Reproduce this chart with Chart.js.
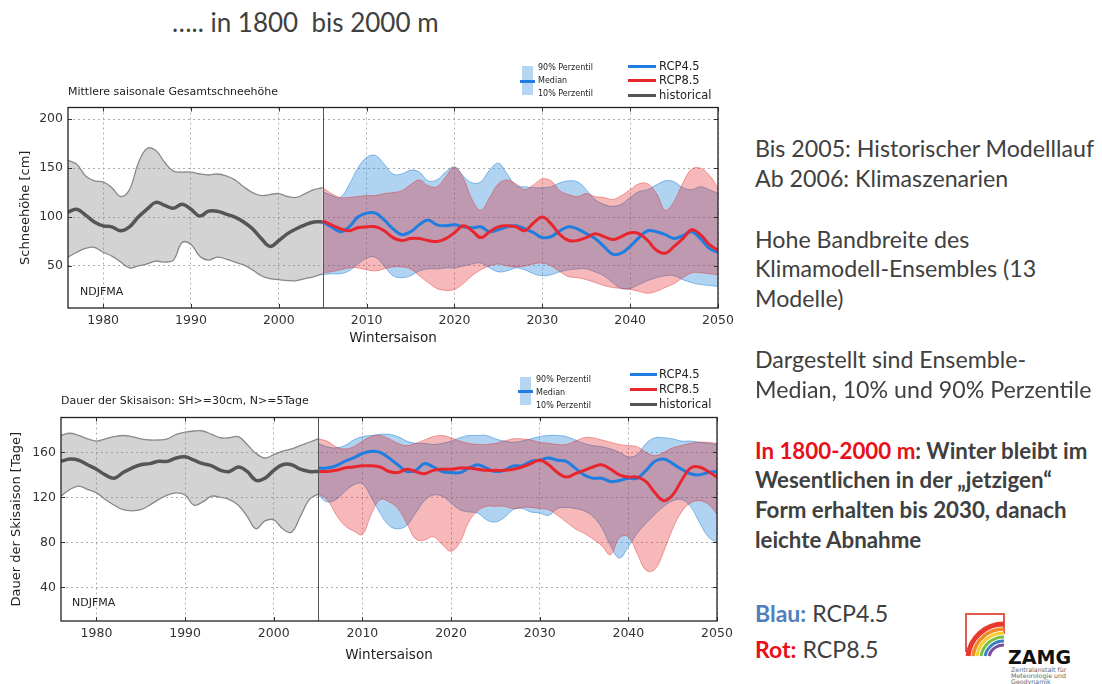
<!DOCTYPE html>
<html>
<head>
<meta charset="utf-8">
<script src="https://cdn.jsdelivr.net/npm/chart.js@4.4.1/dist/chart.umd.min.js"></script>
<style>
  body { margin: 0; background: #fff; }
  #page { position: relative; width: 1102px; height: 684px; overflow: hidden; background: #fff; }
  canvas { position: absolute; }
  .t { position: absolute; white-space: pre; color: #404040; }
  .side { font-family: Lato, "Open Sans", sans-serif; font-size: 23.2px; line-height: 30px; left: 755px; }
  .b { font-weight: bold; font-size: 22.3px; }
  .sm { font-family: "DejaVu Sans", sans-serif; color: #222; }
  .sw { position: absolute; }
</style>
</head>
<body>
<div id="page">
  <div class="t" style="left:172px;top:6px;font-family:Lato,sans-serif;font-size:26px;line-height:32px;">….. in 1800  bis 2000 m</div>

  <canvas id="snow" width="726" height="255" style="left:14px;top:95px;"></canvas>
  <canvas id="ski" width="735" height="262" style="left:5px;top:405px;"></canvas>

  <!-- top chart labels -->
  <div class="t sm" style="left:68px;top:85px;font-size:11px;line-height:14px;">Mittlere saisonale Gesamtschneehöhe</div>
  <div class="t sm" style="left:80px;top:285px;font-size:11px;line-height:14px;">NDJFMA</div>
  <div class="sw" style="left:522px;top:66px;width:11px;height:29px;background:#b5d5f2;"></div>
  <div class="sw" style="left:520px;top:80px;width:15px;height:2.5px;background:#1f7ee0;"></div>
  <div class="t sm" style="left:538px;top:62px;font-size:8px;line-height:12px;">90% Perzentil</div>
  <div class="t sm" style="left:538px;top:75px;font-size:8px;line-height:12px;">Median</div>
  <div class="t sm" style="left:538px;top:88px;font-size:8px;line-height:12px;">10% Perzentil</div>
  <div class="sw" style="left:628px;top:65px;width:28px;height:2.5px;background:#1f7ee0;"></div>
  <div class="sw" style="left:628px;top:79px;width:28px;height:2.5px;background:#e8262e;"></div>
  <div class="sw" style="left:628px;top:94px;width:28px;height:2.5px;background:#555;"></div>
  <div class="t sm" style="left:659px;top:59px;font-size:11.5px;line-height:14px;">RCP4.5</div>
  <div class="t sm" style="left:659px;top:73px;font-size:11.5px;line-height:14px;">RCP8.5</div>
  <div class="t sm" style="left:659px;top:88px;font-size:11.5px;line-height:14px;">historical</div>

  <!-- bottom chart labels -->
  <div class="t sm" style="left:61px;top:394px;font-size:11px;line-height:14px;">Dauer der Skisaison: SH&gt;=30cm, N&gt;=5Tage</div>
  <div class="t sm" style="left:72px;top:596px;font-size:11px;line-height:14px;">NDJFMA</div>
  <div class="sw" style="left:520px;top:377px;width:11px;height:28px;background:#b5d5f2;"></div>
  <div class="sw" style="left:518px;top:390px;width:15px;height:2.5px;background:#1f7ee0;"></div>
  <div class="t sm" style="left:536px;top:374px;font-size:8px;line-height:12px;">90% Perzentil</div>
  <div class="t sm" style="left:536px;top:387px;font-size:8px;line-height:12px;">Median</div>
  <div class="t sm" style="left:536px;top:400px;font-size:8px;line-height:12px;">10% Perzentil</div>
  <div class="sw" style="left:630px;top:373px;width:27px;height:2.5px;background:#1f7ee0;"></div>
  <div class="sw" style="left:630px;top:388px;width:27px;height:2.5px;background:#e8262e;"></div>
  <div class="sw" style="left:630px;top:403px;width:27px;height:2.5px;background:#555;"></div>
  <div class="t sm" style="left:659px;top:367px;font-size:11.5px;line-height:14px;">RCP4.5</div>
  <div class="t sm" style="left:659px;top:382px;font-size:11.5px;line-height:14px;">RCP8.5</div>
  <div class="t sm" style="left:659px;top:397px;font-size:11.5px;line-height:14px;">historical</div>

  <!-- side text -->
  <div class="t side" style="top:133px;">Bis 2005: Historischer Modelllauf</div>
  <div class="t side" style="top:163px;">Ab 2006: Klimaszenarien</div>
  <div class="t side" style="top:224px;">Hohe Bandbreite des</div>
  <div class="t side" style="top:253px;">Klimamodell-Ensembles (13</div>
  <div class="t side" style="top:283px;">Modelle)</div>
  <div class="t side" style="top:344px;">Dargestellt sind Ensemble-</div>
  <div class="t side" style="top:374px;">Median, 10% und 90% Perzentile</div>
  <div class="t side b" style="top:436px;"><span style="color:#e8101a;">In 1800-2000 m</span>: Winter bleibt im</div>
  <div class="t side b" style="top:465px;">Wesentlichen in der „jetzigen“</div>
  <div class="t side b" style="top:495px;">Form erhalten bis 2030, danach</div>
  <div class="t side b" style="top:525px;">leichte Abnahme</div>
  <div class="t side" style="top:598px;"><span class="b" style="color:#4f7fbd;font-size:23px;">Blau:</span> RCP4.5</div>
  <div class="t side" style="top:634px;"><span class="b" style="color:#e8101a;font-size:23px;">Rot:</span> RCP8.5</div>

  <svg style="position:absolute;left:960px;top:608px;" width="142" height="76" viewBox="960 608 142 76">
    <polyline points="966,652 966,614 1004,614 1004,634" fill="none" stroke="#e05a50" stroke-width="2"/>
    <path d="M968,656 A36,36 0 0 1 1004,624" fill="none" stroke="#e8392f" stroke-width="5"/>
    <path d="M973,656 A31,31 0 0 1 1004,629" fill="none" stroke="#f08a24" stroke-width="3.5"/>
    <path d="M977,656 A27,27 0 0 1 1004,633" fill="none" stroke="#f2cf2a" stroke-width="3"/>
    <path d="M981,656 A23,23 0 0 1 1004,637" fill="none" stroke="#7ac143" stroke-width="3"/>
    <path d="M985,656 A19,19 0 0 1 1004,641" fill="none" stroke="#3a7fc2" stroke-width="3"/>
    <path d="M989,656 A15,15 0 0 1 1004,645" fill="none" stroke="#7b4fa0" stroke-width="3"/>
    <text x="1008" y="664" font-family="DejaVu Sans" font-weight="bold" font-size="19" fill="#111">ZAMG</text>
    <text x="1011" y="672" font-family="DejaVu Sans" font-size="6.3" fill="#666">Zentralanstalt für</text>
    <text x="1011" y="678" font-family="DejaVu Sans" font-size="6.3" fill="#666">Meteorologie und</text>
    <text x="1011" y="684" font-family="DejaVu Sans" font-size="6.3" fill="#666">Geodynamik</text>
  </svg>
</div>

<script>
// winter seasons
const histYears = [1976, 1977, 1978, 1979, 1980, 1981, 1982, 1983, 1984, 1985,
  1986, 1987, 1988, 1989, 1990, 1991, 1992, 1993, 1994, 1995,
  1996, 1997, 1998, 1999, 2000, 2001, 2002, 2003, 2004, 2005];
const futYears = [2005, 2006, 2007, 2008, 2009, 2010, 2011, 2012, 2013, 2014,
  2015, 2016, 2017, 2018, 2019, 2020, 2021, 2022, 2023, 2024,
  2025, 2026, 2027, 2028, 2029, 2030, 2031, 2032, 2033, 2034,
  2035, 2036, 2037, 2038, 2039, 2040, 2041, 2042, 2043, 2044,
  2045, 2046, 2047, 2048, 2049, 2050];
const yearTicks = [1980, 1990, 2000, 2010, 2020, 2030, 2040, 2050];
const splitYear = 2005;

// Mittlere saisonale Gesamtschneehoehe [cm]
const snowHistP90 = [158, 154, 142, 137, 136, 130, 121, 128, 155, 170, 168, 156, 147, 146, 146, 144, 143, 144, 142, 138, 131, 125, 122, 123, 124, 121, 120, 124, 128, 130];
const snowHistMed = [105, 108, 102, 95, 91, 90, 86, 90, 100, 108, 115, 112, 109, 113, 108, 101, 106, 106, 103, 100, 95, 88, 78, 70, 76, 83, 88, 92, 95, 95];
const snowHistP10 = [59, 64, 68, 69, 64, 60, 54, 48, 50, 52, 55, 54, 56, 74, 72, 60, 56, 59, 57, 54, 51, 46, 40, 37, 36, 35, 35, 37, 39, 42];
const snow45Med = [95, 90, 85, 90, 100, 104, 104, 97, 88, 82, 85, 92, 97, 92, 91, 92, 90, 89, 90, 85, 87, 90, 91, 88, 84, 79, 80, 86, 90, 88, 83, 78, 70, 62, 63, 70, 79, 86, 85, 82, 78, 81, 85, 78, 68, 64];
const snow45P90 = [126, 122, 120, 133, 150, 161, 163, 154, 144, 144, 148, 146, 137, 138, 146, 151, 142, 135, 136, 148, 155, 144, 132, 131, 130, 130, 131, 135, 137, 136, 128, 118, 113, 111, 113, 120, 126, 128, 133, 137, 136, 130, 128, 131, 128, 124];
const snow45P10 = [41, 42, 42, 45, 52, 58, 59, 50, 40, 38, 40, 45, 47, 47, 48, 48, 50, 52, 53, 48, 44, 45, 48, 46, 42, 40, 41, 44, 46, 47, 47, 44, 40, 33, 27, 27, 31, 35, 38, 40, 40, 36, 33, 31, 30, 29];
const snow85Med = [96, 92, 88, 86, 89, 90, 90, 86, 79, 76, 78, 78, 76, 75, 78, 84, 91, 86, 79, 85, 90, 91, 90, 86, 94, 100, 93, 82, 76, 76, 79, 83, 80, 77, 80, 84, 83, 76, 66, 63, 70, 78, 87, 82, 72, 66];
const snow85P90 = [130, 124, 120, 120, 121, 122, 122, 124, 125, 127, 133, 138, 132, 131, 141, 151, 140, 118, 107, 120, 134, 138, 134, 128, 133, 139, 137, 127, 123, 121, 124, 121, 120, 118, 122, 128, 134, 134, 124, 107, 116, 135, 149, 150, 143, 130];
const snow85P10 = [43, 44, 46, 48, 48, 46, 45, 47, 49, 49, 47, 40, 33, 27, 25, 26, 32, 40, 46, 50, 52, 50, 49, 50, 52, 53, 50, 44, 39, 38, 36, 33, 30, 28, 27, 26, 24, 22, 24, 28, 32, 38, 43, 43, 42, 41];
const snowTicks = [50, 100, 150, 200];

// Dauer der Skisaison [Tage]
const skiHistP90 = [175, 177, 175, 172, 170, 172, 174, 175, 174, 172, 171, 171, 172, 176, 178, 179, 179, 176, 173, 173, 174, 167, 159, 155, 158, 161, 163, 166, 169, 172];
const skiHistMed = [152, 154, 153, 149, 145, 140, 137, 142, 146, 149, 150, 152, 152, 155, 156, 153, 150, 148, 144, 143, 147, 143, 135, 137, 144, 149, 149, 145, 143, 143];
const skiHistP10 = [121, 127, 130, 127, 124, 118, 113, 109, 108, 109, 113, 118, 122, 124, 122, 113, 116, 121, 120, 118, 113, 103, 92, 99, 100, 92, 89, 103, 118, 123];
const ski45Med = [146, 146, 148, 152, 155, 159, 161, 160, 155, 149, 143, 144, 150, 147, 143, 142, 142, 146, 149, 146, 143, 144, 148, 148, 152, 153, 155, 153, 152, 146, 140, 137, 137, 134, 135, 137, 137, 144, 152, 154, 150, 145, 141, 140, 142, 143];
const ski45P90 = [168, 165, 164, 166, 171, 174, 175, 176, 176, 174, 170, 168, 168, 167, 168, 170, 173, 175, 175, 175, 172, 170, 169, 170, 172, 174, 175, 175, 174, 171, 168, 166, 165, 163, 160, 156, 158, 168, 173, 173, 172, 170, 170, 169, 168, 167];
const ski45P10 = [122, 116, 118, 125, 131, 132, 120, 106, 95, 92, 95, 106, 117, 122, 121, 115, 109, 107, 106, 100, 98, 102, 109, 110, 107, 106, 104, 110, 111, 110, 108, 103, 93, 77, 66, 76, 88, 97, 105, 112, 117, 118, 112, 98, 85, 80];
const ski85Med = [143, 143, 144, 146, 147, 148, 148, 147, 143, 142, 145, 143, 141, 144, 145, 145, 146, 146, 145, 144, 144, 144, 145, 147, 150, 153, 149, 142, 138, 141, 144, 147, 149, 145, 140, 138, 138, 134, 124, 117, 122, 135, 146, 147, 143, 138];
const ski85P90 = [172, 170, 165, 163, 165, 170, 174, 175, 172, 168, 166, 168, 171, 174, 175, 173, 170, 168, 167, 167, 168, 170, 172, 172, 171, 169, 168, 167, 167, 170, 173, 173, 171, 169, 167, 166, 165, 160, 157, 160, 164, 166, 168, 169, 169, 168];
const ski85P10 = [123, 118, 105, 95, 90, 87, 105, 118, 116, 110, 97, 83, 82, 85, 78, 72, 80, 98, 108, 112, 112, 112, 110, 111, 111, 110, 109, 104, 98, 92, 88, 83, 77, 69, 84, 85, 70, 55, 56, 72, 92, 107, 115, 117, 114, 105];
const skiTicks = [40, 80, 120, 160];

const BLUE = '#1f7ee0';
const RED = '#e8262e';
const tickFont = { family: 'DejaVu Sans', size: 12.5 };

const pts = (xs, ys) => xs.map((x, i) => ({ x: x, y: ys[i] }));

// frame, inner ticks and the 2005 separator
const framePlugin = {
  id: 'frame',
  afterDatasetsDraw(chart) {
    const { ctx, chartArea: a, scales } = chart;
    const x = scales.x, y = scales.y;
    ctx.save();
    ctx.strokeStyle = '#555';
    ctx.lineWidth = 1;
    const xs = Math.round(x.getPixelForValue(splitYear)) + 0.5;
    ctx.beginPath(); ctx.moveTo(xs, a.top); ctx.lineTo(xs, a.bottom); ctx.stroke();
    ctx.strokeStyle = '#333';
    ctx.beginPath();
    x.ticks.forEach(t => {
      const px = Math.round(x.getPixelForValue(t.value)) + 0.5;
      ctx.moveTo(px, a.top); ctx.lineTo(px, a.top + 4);
      ctx.moveTo(px, a.bottom); ctx.lineTo(px, a.bottom - 4);
    });
    y.ticks.forEach(t => {
      const py = Math.round(y.getPixelForValue(t.value)) + 0.5;
      ctx.moveTo(a.left, py); ctx.lineTo(a.left + 4, py);
      ctx.moveTo(a.right, py); ctx.lineTo(a.right - 4, py);
    });
    ctx.stroke();
    ctx.lineWidth = 1.3;
    ctx.strokeStyle = '#222';
    ctx.strokeRect(a.left, a.top, a.right - a.left, a.bottom - a.top);
    ctx.restore();
  }
};

function buildChart(id, d) {
  const line = { pointRadius: 0, tension: 0.4, fill: false };
  const bandBlue = 'rgba(30,130,217,0.5)';
  const bandRed = 'rgba(224,40,40,0.4)';
  new Chart(document.getElementById(id), {
    type: 'line',
    data: {
      datasets: [
        { ...line, data: pts(futYears, d.r85Med), borderColor: RED, borderWidth: 3 },
        { ...line, data: pts(futYears, d.r45Med), borderColor: BLUE, borderWidth: 3 },
        { ...line, data: pts(histYears, d.histMed), borderColor: '#555', borderWidth: 3.5 },
        { ...line, data: pts(futYears, d.r85P90), borderColor: bandRed, borderWidth: 1, fill: { target: 4 }, backgroundColor: 'rgba(224,20,20,0.3)' },
        { ...line, data: pts(futYears, d.r85P10), borderColor: bandRed, borderWidth: 1 },
        { ...line, data: pts(futYears, d.r45P90), borderColor: bandBlue, borderWidth: 1, fill: { target: 6 }, backgroundColor: 'rgba(40,135,220,0.37)' },
        { ...line, data: pts(futYears, d.r45P10), borderColor: bandBlue, borderWidth: 1 },
        { ...line, data: pts(histYears, d.histP90), borderColor: '#8a8a8a', borderWidth: 1.3, fill: { target: 8 }, backgroundColor: 'rgba(128,128,128,0.35)' },
        { ...line, data: pts(histYears, d.histP10), borderColor: '#8a8a8a', borderWidth: 1.3 }
      ]
    },
    options: {
      responsive: false,
      animation: false,
      devicePixelRatio: 1,
      layout: { padding: { top: 0, right: d.padRight, left: 0, bottom: 0 } },
      plugins: { legend: { display: false }, tooltip: { enabled: false } },
      scales: {
        x: {
          type: 'linear', min: 1976, max: 2050,
          afterBuildTicks: s => { s.ticks = yearTicks.map(v => ({ value: v })); },
          afterFit: s => { s.height = d.xHeight; },
          ticks: { font: tickFont, color: '#333', padding: 5, maxRotation: 0, autoSkip: false, callback: v => String(v) },
          grid: { color: '#9a9a9a', lineWidth: 0.8, drawTicks: false },
          border: { display: false, dash: [2, 3] },
          title: { display: true, text: 'Wintersaison', color: '#222', font: { family: 'DejaVu Sans', size: 13.5 }, padding: { top: 0, bottom: 3 } }
        },
        y: {
          min: d.yMin, max: d.yMax,
          afterBuildTicks: s => { s.ticks = d.yTicks.map(v => ({ value: v })); },
          afterFit: s => { s.width = d.yWidth; },
          ticks: { font: tickFont, color: '#333', padding: 5 },
          grid: { color: '#9a9a9a', lineWidth: 0.8, drawTicks: false },
          border: { display: false, dash: [2, 3] },
          title: { display: true, text: d.yTitle, color: '#222', font: { family: 'DejaVu Sans', size: 13 } }
        }
      }
    },
    plugins: [framePlugin]
  });
}

buildChart('snow', {
  histMed: snowHistMed, histP10: snowHistP10, histP90: snowHistP90,
  r45Med: snow45Med, r45P10: snow45P10, r45P90: snow45P90,
  r85Med: snow85Med, r85P10: snow85P10, r85P90: snow85P90,
  yMin: 7, yMax: 212, yTicks: snowTicks, yTitle: 'Schneehöhe [cm]',
  yWidth: 54, xHeight: 42, padRight: 22
});

buildChart('ski', {
  histMed: skiHistMed, histP10: skiHistP10, histP90: skiHistP90,
  r45Med: ski45Med, r45P10: ski45P10, r45P90: ski45P90,
  r85Med: ski85Med, r85P10: ski85P10, r85P90: ski85P90,
  yMin: 10, yMax: 191, yTicks: skiTicks, yTitle: 'Dauer der Skisaison [Tage]',
  yWidth: 56, xHeight: 46, padRight: 23
});
</script>
</body>
</html>
